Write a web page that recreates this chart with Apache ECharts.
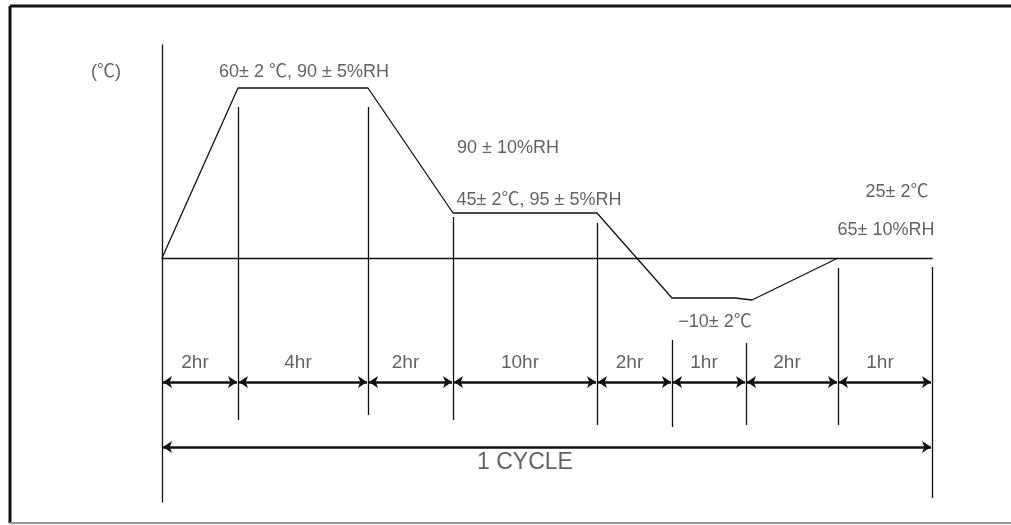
<!DOCTYPE html>
<html lang="en">
<head>
    <meta charset="UTF-8">
    <title>cycle</title>
    <script src="https://cdn.jsdelivr.net/npm/echarts@6/dist/echarts.min.js"></script>
    <style>
        body { margin: 0; background: #fff; }
    </style>
</head>
<body>
<div id="main" style="width: 1011px;height: 525px"></div>

<script>
    // schematic time axis (not to scale) and temperature levels
    var stepLabels = ['2hr', '4hr', '2hr', '10hr', '2hr', '1hr', '2hr', '1hr'];
    var stepEdges = [0, 76, 206, 291, 435, 510, 584, 676, 770];
    var profileX = [0, 76, 206, 291, 435, 510, 573, 590, 676];
    var profileY = [0, 170, 170, 45, 45, -40, -40, -42, 0];
    // separator lines: top / bottom per edge
    var edgeTop = [null, 151, 151, 41, 35, -82, -85, -10, -9];
    var edgeBottom = [null, -162, -157, -162, -167, -169, -167, -167, -240];
    var arrowY = -124;
    var cycleY = -189;
    var hourLabelY = -105;

    var noteText = ['(℃)', '60± 2 ℃, 90 ± 5%RH', '90 ± 10%RH', '45± 2℃, 95 ± 5%RH',
        '25± 2℃', '65± 10%RH', '−10± 2℃'];
    var noteX = [-56, 142, 346, 377, 735, 724, 553];
    var noteY = [186, 186, 110, 58, 66, 28, -64];

    var font = 'Liberation Sans, Noto Sans CJK KR, sans-serif';

    var profile = [];
    for (var i = 0; i < profileX.length; i++) {
        profile.push([profileX[i], profileY[i]]);
    }

    var separators = [];
    for (var i = 1; i < stepEdges.length; i++) {
        separators.push({coords: [[stepEdges[i], edgeTop[i]], [stepEdges[i], edgeBottom[i]]]});
    }

    var arrows = [];
    for (var i = 0; i < stepLabels.length; i++) {
        arrows.push({coords: [[stepEdges[i] + 1, arrowY], [stepEdges[i + 1] - 1, arrowY]]});
    }

    var hours = [];
    for (var i = 0; i < stepLabels.length; i++) {
        hours.push({name: stepLabels[i], value: [(stepEdges[i] + stepEdges[i + 1]) / 2 - 5, hourLabelY]});
    }
    var notes = [];
    for (var i = 0; i < noteText.length; i++) {
        notes.push({name: noteText[i], value: [noteX[i], noteY[i]]});
    }

    var myChart = echarts.init(document.getElementById('main'));

    function textSeries(name, data, size) {
        return {
            name: name,
            type: 'scatter',
            symbolSize: 0,
            clip: false,
            label: {
                show: true, position: 'inside', formatter: '{b}',
                color: '#3a3a3a', fontSize: size, fontFamily: font
            },
            data: data
        };
    }

    var option = {
        animation: false,
        graphic: [
            {type: 'line', shape: {x1: 10, y1: 6, x2: 1011, y2: 6}, style: {stroke: '#111', lineWidth: 3}},
            {type: 'line', shape: {x1: 10, y1: 6, x2: 10, y2: 523}, style: {stroke: '#111', lineWidth: 3}},
            {type: 'line', shape: {x1: 10, y1: 523, x2: 1011, y2: 523}, style: {stroke: '#999', lineWidth: 2}}
        ],
        grid: {left: 162, right: 79, top: 45, bottom: 23},
        xAxis: {
            type: 'value',
            min: 0,
            max: 770,
            axisLine: {onZero: true, lineStyle: {color: '#111', width: 1.3}},
            axisTick: {show: false},
            axisLabel: {show: false},
            splitLine: {show: false}
        },
        yAxis: {
            type: 'value',
            min: -244,
            max: 213,
            axisLine: {show: true, onZero: false, lineStyle: {color: '#111', width: 1.3}},
            axisTick: {show: false},
            axisLabel: {show: false},
            splitLine: {show: false}
        },
        series: [
            {
                name: 'profile',
                type: 'line',
                data: profile,
                symbol: 'none',
                lineStyle: {color: '#111', width: 1.3}
            },
            {
                name: 'edges',
                type: 'lines',
                coordinateSystem: 'cartesian2d',
                symbol: 'none',
                lineStyle: {color: '#111', width: 1.3, opacity: 1},
                data: separators
            },
            {
                name: 'steps',
                type: 'lines',
                coordinateSystem: 'cartesian2d',
                symbol: ['arrow', 'arrow'],
                symbolSize: 9,
                lineStyle: {color: '#111', width: 2.5, opacity: 1},
                data: arrows
            },
            {
                name: 'cycle',
                type: 'lines',
                coordinateSystem: 'cartesian2d',
                symbol: ['arrow', 'arrow'],
                symbolSize: 9,
                lineStyle: {color: '#111', width: 2.5, opacity: 1},
                data: [{coords: [[1, cycleY], [769, cycleY]]}]
            },
            textSeries('cycleText', [{name: '1 CYCLE', value: [363, -205]}], 23),
            textSeries('hours', hours, 19),
            textSeries('notes', notes, 18)
        ]
    };

    myChart.setOption(option);
</script>
</body>
</html>
